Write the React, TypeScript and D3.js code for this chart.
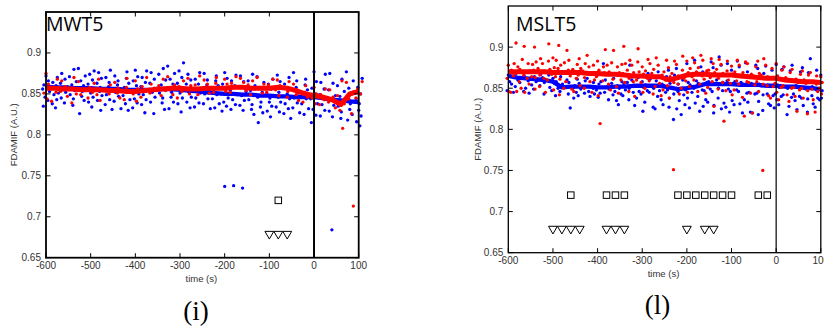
import React from 'react';
import * as d3 from 'd3';

// ---------- data ----------
const leftTimes = [-600,-580,-560,-540,-520,-500,-480,-460,-440,-420,-400,-380,-360,-340,-320,-300,-280,-260,-240,-220,-200,-180,-160,-140,-120,-100,-80,-60,-40,-20,0,20,40,60,80,100];

const leftBlue: number[][] = [
  [.872,.866,.861,.858,.856,.853,.846,.842,.835],
  [.870,.864,.860,.857,.851,.849,.843,.838,.833],
  [.875,.868,.863,.859,.855,.852,.845,.839],
  [.880,.871,.865,.861,.854,.849,.844,.836],
  [.881,.872,.866,.860,.857,.853,.847,.842,.826],
  [.878,.874,.867,.862,.856,.851,.846,.840,.834],
  [.876,.869,.863,.858,.853,.848,.842,.830],
  [.879,.870,.864,.859,.855,.849,.843,.837,.831],
  [.872,.866,.861,.856,.852,.847,.841,.832],
  [.877,.869,.863,.858,.853,.848,.843,.838,.830],
  [.879,.871,.866,.860,.855,.850,.844,.839,.833],
  [.878,.870,.864,.859,.854,.849,.843,.837,.827],
  [.876,.868,.863,.857,.852,.846,.840,.826],
  [.881,.874,.867,.861,.856,.851,.845,.839,.831],
  [.884,.875,.868,.862,.857,.852,.846,.840,.832],
  [.888,.878,.870,.863,.857,.851,.845,.838,.828],
  [.874,.867,.862,.857,.852,.846,.840,.833],
  [.876,.868,.862,.856,.851,.845,.839,.834],
  [.875,.867,.861,.855,.850,.844,.838,.832],
  [.872,.866,.860,.855,.849,.844,.838,.833],
  [.876,.869,.862,.856,.850,.845,.840,.835,.829],
  [.873,.866,.860,.854,.849,.843,.837,.831],
  [.872,.865,.859,.853,.848,.842,.836,.830],
  [.874,.866,.860,.854,.848,.843,.837,.831,.825],
  [.871,.864,.858,.852,.846,.840,.834,.827,.815],
  [.868,.862,.856,.850,.845,.840,.835,.829,.822],
  [.873,.865,.858,.852,.846,.840,.834,.828],
  [.870,.862,.856,.850,.844,.838,.832,.826,.820],
  [.876,.866,.858,.851,.845,.839,.833,.827],
  [.868,.861,.855,.849,.844,.838,.832,.825],
  [.877,.865,.857,.850,.844,.838,.831,.824,.815],
  [.874,.864,.856,.849,.843,.837,.830,.823],
  [.875,.863,.855,.848,.842,.836,.829,.822],
  [.868,.860,.853,.847,.841,.835,.828,.820],
  [.877,.866,.857,.850,.844,.838,.831,.825,.818],
  [.869,.858,.850,.844,.838,.830,.823,.816,.811],
];
const leftBlueExtra: [number, number][] = [[-200,.737],[-180,.738],[-160,.735],[40,.684]];

const leftRed: number[][] = [
  [.875,.862,.851,.844],[.868,.858,.852,.841],[.866,.859,.853,.847],[.870,.857,.850,.839],
  [.865,.856,.849],[.863,.858,.852,.845],[.868,.855,.849,.842],[.861,.856,.850],
  [.864,.857,.851,.845],[.869,.858,.852,.843],[.866,.856,.850,.841],[.870,.859,.853,.846],
  [.862,.857,.851],[.868,.860,.854,.848],[.871,.861,.855,.849],[.866,.859,.853,.845],
  [.869,.860,.855,.850],[.872,.861,.856,.849],[.867,.862,.857,.851],[.870,.863,.857,.852],
  [.868,.862,.858,.853],[.871,.863,.858,.852],[.869,.864,.859,.854],[.866,.861,.856,.849],
  [.870,.862,.857,.851],[.868,.861,.856,.852],[.867,.860,.855,.848],[.865,.858,.853,.846],
  [.862,.855,.849,.842],[.860,.852,.846,.840],[.858,.850,.845,.838],[.856,.849,.843,.837],
  [.855,.846,.840,.833],[.866,.848,.838,.830,.808],[.864,.852,.844,.826],[.865,.856,.850,.845],
];
const leftRedExtra: [number, number][] = [[88,.713]];

const leftBlueMean = [.859,.858,.858,.857,.857,.857,.856,.856,.856,.855,.855,.855,.855,.856,.856,.855,.854,.853,.852,.851,.850,.850,.849,.849,.848,.848,.847,.847,.846,.846,.846,.845,.843,.842,.841,.840];
const leftRedMean = [.857,.857,.856,.856,.855,.855,.855,.854,.854,.853,.853,.854,.855,.856,.857,.857,.856,.856,.857,.857,.857,.858,.858,.857,.857,.857,.858,.857,.854,.850,.848,.846,.843,.837,.850,.853];

const rightTimes = [-600,-590,-580,-570,-560,-550,-540,-530,-520,-510,-500,-490,-480,-470,-460,-450,-440,-430,-420,-410,-400,-390,-380,-370,-360,-350,-340,-330,-320,-310,-300,-290,-280,-270,-260,-250,-240,-230,-220,-210,-200,-190,-180,-170,-160,-150,-140,-130,-120,-110,-100,-90,-80,-70,-60,-50,-40,-30,-20,-10,0,10,20,30,40,50,60,70,80,90,100];

const rightBlue: number[][] = [
  [.866,.858,.847],[.863,.855,.845],[.868,.860,.852],[.862,.857,.846],[.865,.859,.850],
  [.870,.861,.854,.844],[.864,.858,.849],[.867,.860,.853],[.863,.857,.843],[.866,.859,.851],
  [.862,.856,.847],[.868,.858,.850,.841],[.864,.855,.846],[.860,.852,.843],[.857,.850,.826],
  [.861,.853,.845,.838],[.856,.849,.841],[.859,.851,.844],[.862,.852,.846,.840],[.857,.850,.843],
  [.866,.855,.848,.839],[.880,.858,.851,.844],[.860,.852,.845,.836],[.856,.849,.842],[.862,.853,.846,.835],
  [.858,.850,.843,.830],[.855,.848,.841],[.878,.857,.850,.836],[.860,.852,.845,.829],[.863,.853,.846,.838],
  [.858,.851,.843,.822],[.868,.854,.847,.833],[.861,.852,.845,.827],[.859,.850,.840,.825],[.870,.855,.847,.836],
  [.864,.853,.845,.830],[.872,.856,.848,.838,.827],[.866,.851,.843,.812],[.874,.855,.846,.835,.825],[.860,.850,.842,.818],
  [.880,.857,.848,.838,.830],[.868,.854,.845,.826],[.884,.859,.850,.840,.832],[.876,.856,.848,.822],[.870,.857,.847,.836,.828],
  [.882,.858,.849,.833],[.875,.856,.846,.829,.820],[.888,.860,.850,.838],[.878,.857,.847,.832,.825],[.880,.859,.849,.827],
  [.872,.856,.846,.835,.821],[.883,.858,.848,.830],[.876,.857,.846,.820,.831],[.881,.855,.844,.836],[.870,.856,.845,.821,.833],
  [.878,.854,.843,.820],[.874,.855,.844,.834,.818],[.868,.853,.842,.823],[.877,.854,.843,.831],[.872,.852,.841,.829],
  [.879,.854,.843,.836,.826],[.873,.851,.840,.830],[.876,.852,.842,.818],[.871,.850,.839,.828],[.878,.853,.843,.835],
  [.870,.851,.840,.824],[.875,.850,.838,.829],[.869,.849,.837,.821],[.886,.852,.841,.831],[.872,.848,.838,.827],
  [.866,.847,.836,.838],
];

const rightRed: number[][] = [
  [.878,.870,.862,.846],[.880,.872,.865,.845],[.905,.876,.868,.858,.846],[.885,.873,.866,.850],[.901,.880,.870,.862,.845],
  [.879,.871,.864,.855],[.900,.882,.872,.863,.849],[.886,.874,.866,.852],[.880,.871,.862,.845],[.904,.883,.873,.860],
  [.887,.875,.867,.848],[.902,.884,.874,.864,.842],[.878,.870,.861,.850],[.896,.881,.872,.858],[.884,.873,.865,.849],
  [.879,.870,.862,.846],[.886,.874,.866,.853],[.880,.871,.863,.850],[.890,.876,.868,.858],[.878,.869,.860,.845],
  [.883,.872,.864,.841],[.876,.868,.859,.807],[.897,.878,.869,.855],[.881,.870,.861,.848],[.896,.876,.867,.852],
  [.879,.869,.860,.844],[.901,.880,.868,.857],[.884,.872,.862,.846],[.878,.869,.858,.840],[.898,.882,.870,.860],
  [.876,.867,.857,.845],[.885,.871,.862,.850],[.880,.868,.859,.843],[.887,.873,.863,.852],[.878,.866,.856,.841],
  [.884,.870,.860,.848],[.875,.864,.853,.838],[.883,.868,.857,.751],[.879,.865,.855,.843],[.889,.872,.862,.850],
  [.883,.869,.859,.845],[.887,.874,.864,.852],[.881,.870,.860,.846],[.890,.875,.865,.855],[.884,.871,.861,.844],
  [.886,.872,.863,.851],[.880,.869,.858,.828],[.885,.873,.862,.849],[.879,.868,.857,.810],[.883,.871,.860,.847],
  [.877,.867,.856,.842],[.884,.870,.859,.848],[.878,.866,.855,.839],[.882,.869,.858,.816],[.880,.867,.857,.844],
  [.876,.865,.854,.820],[.883,.868,.858,.846],[.886,.866,.855,.750],[.878,.864,.853,.841],[.874,.862,.852,.838],
  [.880,.865,.856,.845],[.872,.861,.851,.836],[.876,.863,.853,.842],[.869,.859,.850,.834],[.873,.861,.851,.840],
  [.867,.857,.848,.822],[.871,.860,.850,.838],[.866,.856,.847,.819],[.869,.858,.849,.836],[.865,.855,.846,.821],
  [.864,.857,.850,.843],
];

const rightMeanTimes = leftTimes;
const rightBlueMean = [.865,.863,.862,.861,.860,.858,.851,.852,.852,.852,.851,.851,.852,.852,.853,.853,.853,.853,.851,.849,.850,.852,.855,.855,.855,.855,.854,.854,.854,.853,.853,.852,.852,.851,.850,.849];
const rightRedMean = [.870,.870,.870,.870,.870,.869,.869,.869,.869,.868,.868,.867,.867,.866,.865,.865,.864,.864,.860,.863,.866,.867,.867,.866,.866,.866,.865,.864,.863,.862,.862,.860,.859,.858,.858,.857];

const leftSquares = [-80];
const leftTriangles = [-100, -80, -60];
const rightSquares = [-460, -380, -360, -340, -220, -200, -180, -160, -140, -120, -100, -40, -20];
const rightTriangles = [-500, -480, -460, -440, -380, -360, -340, -200, -160, -140];
const squareLevel = 0.72;
const triangleLevel = 0.68;

const xTicks = [-600, -500, -400, -300, -200, -100, 0, 100];
const yTicks = [0.65, 0.7, 0.75, 0.8, 0.85, 0.9];
const yTickLabels = ['0.65', '0.7', '0.75', '0.8', '0.85', '0.9'];

// ---------- drawing ----------
const BLUE = '#0000ff';
const RED = '#ff0000';
const TXT = '#333333';
const TICKFONT = '"Liberation Sans", Arial, sans-serif';
// horizontal spread (px) of the dots of one sample column
const SPREAD = [0, 1.7, -1.5, 0.8, -2.4, 2.5, -0.7, 1.3, -1.9, 0.4];

type PanelProps = {
  x0: number; x1: number; y0: number; y1: number;
  frame: number; zeroW: number; spread: number;
  title: string; titleX: number; titleY: number;
  ylabX: number; xlabY: number;
  caption: string; capX: number; capY: number;
  blueTimes: number[]; blue: number[][]; blueExtra: [number, number][];
  redTimes: number[]; red: number[][]; redExtra: [number, number][];
  meanTimes: number[]; blueMean: number[]; redMean: number[];
  squares: number[]; triangles: number[];
};

function Panel(p: PanelProps) {
  const x = d3.scaleLinear().domain([-600, 100]).range([p.x0, p.x1]);
  const y = d3.scaleLinear().domain([0.65, 0.95]).range([p.y1, p.y0]);
  const R = 1.65;
  const dots = (times: number[], cols: number[][], extra: [number, number][], color: string, key: string) => {
    const out: React.ReactNode[] = [];
    cols.forEach((col, i) => col.forEach((v, k) => {
      const dx = SPREAD[(k + i) % SPREAD.length] * p.spread;
      out.push(<circle key={`${key}${i}-${k}`} cx={x(times[i]) + dx} cy={y(v)} r={R} fill={color} />);
    }));
    extra.forEach(([t, v], i) => out.push(<circle key={`${key}e${i}`} cx={x(t)} cy={y(v)} r={R} fill={color} />));
    return out;
  };
  const line = d3.line<number>().x((_, i) => x(p.meanTimes[i])).y(d => y(d)).curve(d3.curveLinear);
  const tl = 4.5;
  const sq = 6.5;
  const tri = d3.symbol().type(d3.symbolTriangle).size(34)();
  return (
    <g>
      {dots(p.blueTimes, p.blue, p.blueExtra, BLUE, 'b')}
      <path d={line(p.blueMean) || ''} fill="none" stroke={BLUE} strokeWidth={4.3} strokeLinejoin="round" />
      {dots(p.redTimes, p.red, p.redExtra, RED, 'r')}
      <path d={line(p.redMean) || ''} fill="none" stroke={RED} strokeWidth={5} strokeLinejoin="round" />
      {p.squares.map((t, i) => (
        <rect key={`s${i}`} x={x(t) - sq / 2} y={y(squareLevel) - sq / 2} width={sq} height={sq} fill="none" stroke="#000" strokeWidth={1} />
      ))}
      {p.triangles.map((t, i) => (
        <path key={`t${i}`} d={tri} transform={`translate(${x(t)},${y(triangleLevel) + 0.8}) rotate(180)`} fill="none" stroke="#000" strokeWidth={1} />
      ))}
      <line x1={x(0)} x2={x(0)} y1={p.y0} y2={p.y1} stroke="#000" strokeWidth={p.zeroW} />
      {xTicks.map(t => (
        <g key={`xt${t}`}>
          <line x1={x(t)} x2={x(t)} y1={p.y1} y2={p.y1 - tl} stroke="#000" strokeWidth={1} />
          <line x1={x(t)} x2={x(t)} y1={p.y0} y2={p.y0 + tl} stroke="#000" strokeWidth={1} />
          <text x={x(t)} y={p.y1 + 11} textAnchor="middle" fontSize={10} fontFamily={TICKFONT} fill={TXT}>{t}</text>
        </g>
      ))}
      {yTicks.map((v, i) => (
        <g key={`yt${i}`}>
          <line x1={p.x0} x2={p.x0 + tl} y1={y(v)} y2={y(v)} stroke="#000" strokeWidth={1} />
          <line x1={p.x1} x2={p.x1 - tl} y1={y(v)} y2={y(v)} stroke="#000" strokeWidth={1} />
          <text x={p.x0 - 5} y={y(v) + 3.4} textAnchor="end" fontSize={10} fontFamily={TICKFONT} fill={TXT}>{yTickLabels[i]}</text>
        </g>
      ))}
      <rect x={p.x0} y={p.y0} width={p.x1 - p.x0} height={p.y1 - p.y0} fill="none" stroke="#000" strokeWidth={p.frame} />
      <text x={p.titleX} y={p.titleY} fontSize={19.5} fontFamily='"Open Sans", sans-serif' fill="#000">{p.title}</text>
      <text transform={`translate(${p.ylabX},${(p.y0 + p.y1) / 2}) rotate(-90)`} textAnchor="middle" fontSize={9.5} fontFamily={TICKFONT} fill={TXT}>FDAMIF (A.U.)</text>
      <text x={(p.x0 + p.x1) / 2 - 1} y={p.xlabY} textAnchor="middle" fontSize={9.5} fontFamily={TICKFONT} fill={TXT}>time (s)</text>
      <text x={p.capX} y={p.capY} textAnchor="middle" fontSize={27} fontFamily='"Liberation Serif", "Times New Roman", serif' fill="#000">{p.caption}</text>
    </g>
  );
}

export default function App() {
  return (
    <svg width={824} height={329} style={{ position: 'absolute', left: 0, top: 0, background: '#fff' }}>
      <rect x={0} y={0} width={824} height={329} fill="#fff" />
      <Panel x0={46} x1={358.7} y0={12} y1={257.7} frame={1.8} zeroW={2} spread={1.4}
        title="MWT5" titleX={46} titleY={30.7}
        ylabX={17} xlabY={281.5} caption="(i)" capX={196} capY={319.5}
        blueTimes={leftTimes} blue={leftBlue} blueExtra={leftBlueExtra}
        redTimes={leftTimes} red={leftRed} redExtra={leftRedExtra}
        meanTimes={leftTimes} blueMean={leftBlueMean} redMean={leftRedMean}
        squares={leftSquares} triangles={leftTriangles} />
      <Panel x0={508.3} x1={820.8} y0={6} y1={252.7} frame={1.3} zeroW={1.2} spread={0.8}
        title="MSLT5" titleX={516} titleY={30.7}
        ylabX={480.5} xlabY={276.5} caption="(l)" capX={657.5} capY={313.5}
        blueTimes={rightTimes} blue={rightBlue} blueExtra={[]}
        redTimes={rightTimes} red={rightRed} redExtra={[]}
        meanTimes={rightMeanTimes} blueMean={rightBlueMean} redMean={rightRedMean}
        squares={rightSquares} triangles={rightTriangles} />
    </svg>
  );
}
